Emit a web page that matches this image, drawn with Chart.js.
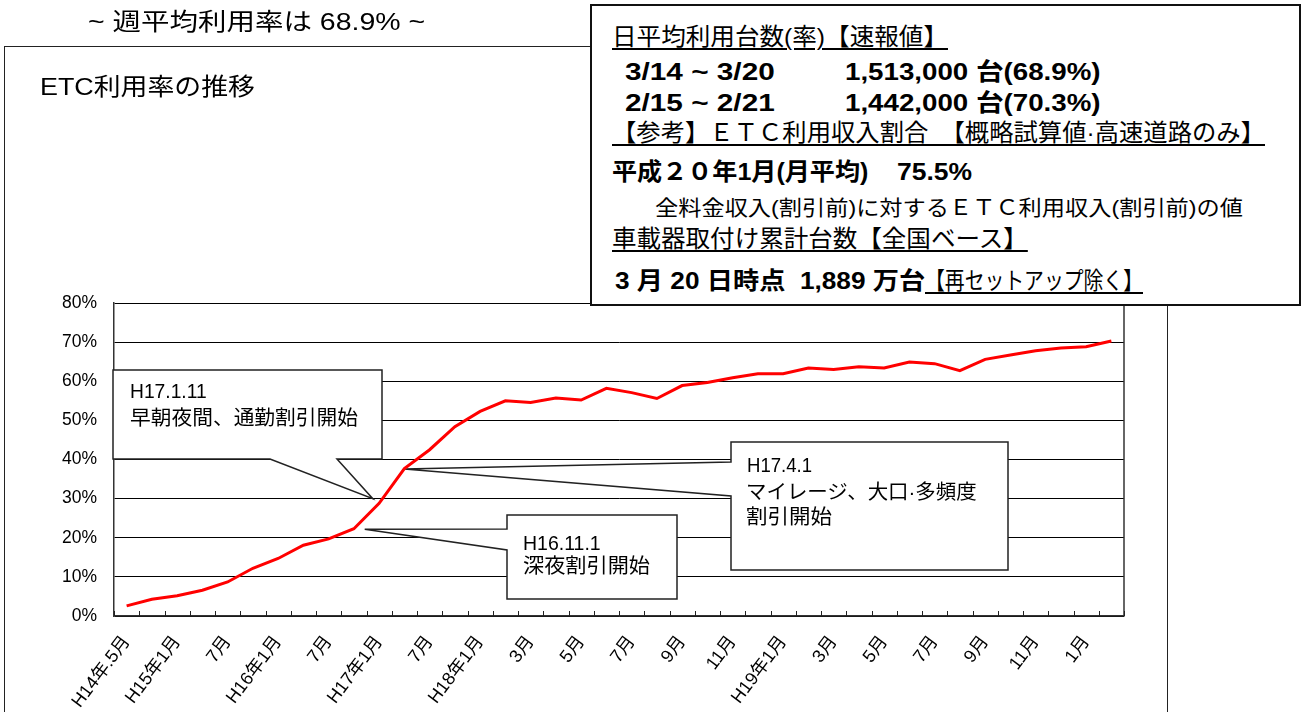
<!DOCTYPE html>
<html><head><meta charset="utf-8">
<script src="https://cdn.jsdelivr.net/npm/chart.js@4.4.1/dist/chart.umd.min.js"></script>
<style>
html,body{margin:0;padding:0;background:#fff;overflow:hidden;width:1307px;height:712px;}
#wrap{position:relative;width:1307px;height:712px;}
#frame{position:absolute;left:4px;top:46px;width:1162px;height:700px;border:1.5px solid #222;}
#c{position:absolute;left:0;top:0;}
#info{position:absolute;left:590px;top:4px;width:707px;height:298px;border:2px solid #111;background:#fff;}
.t{position:absolute;white-space:pre;color:#000;font-family:"Liberation Sans","Noto Sans CJK JP",sans-serif;transform-origin:0 50%;line-height:1;}
.b{font-weight:bold;}
.u{text-decoration:underline;text-decoration-thickness:2px;text-underline-offset:3px;}
</style></head>
<body><div id="wrap">
<div id="frame"></div>
<canvas id="c" width="1307" height="712"></canvas>
<div id="info"></div>
</div>
<script>
// ---- data ----
const categories = ['H14年.5月','','H15年1月','','7月','','H16年1月','','7月','','H17年1月','','7月','','H18年1月','','3月','','5月','','7月','','9月','','11月','','H19年1月','','3月','','5月','','7月','','9月','','11月','','1月',''];
const etcRate = [2.6,4.3,5.2,6.6,8.7,12.2,14.7,18.1,19.7,22.3,28.8,37.7,42.5,48.4,52.3,55.0,54.6,55.7,55.2,58.2,57.1,55.6,58.9,59.7,60.9,61.9,61.9,63.4,63.0,63.7,63.4,64.9,64.5,62.7,65.6,66.7,67.8,68.5,68.8,70.3];
const yTickLabels = ['0%','10%','20%','30%','40%','50%','60%','70%','80%'];
const seriesName = 'ETC利用率';

// ---- callouts (text + anchor on the data scale) ----
const callouts = [
  {lines:['H17.1.11','早朝夜間、通勤割引開始'], tipIndex:9.75, tipValue:30.0},
  {lines:['H16.11.1','深夜割引開始'], tipIndex:9.43, tipValue:22.2},
  {lines:['H17.4.1','マイレージ、大口·多頻度','割引開始'], tipIndex:11, tipValue:37.6}
];
// layout of callout boxes (pixels)
const calloutBoxes = [
  {x1:113,y1:370,x2:382,y2:459, side:'bottom', a:270, b:337, text:[[130,391,77],[130,418,228]]},
  {x1:507,y1:515,x2:677,y2:599, side:'left', a:529, b:550, text:[[523,543,78],[523,566,127]]},
  {x1:731,y1:442,x2:1008,y2:570, side:'left', a:462, b:496, text:[[747,465,65],[746,492,231],[746,517,86]]}
];

const FONT = '"Liberation Sans","Noto Sans CJK JP",sans-serif';

const decor = {
  id:'decor',
  beforeDatasetsDraw(chart){
    const {ctx, chartArea:a, scales:{x,y}} = chart;
    ctx.save();
    ctx.strokeStyle='#333'; ctx.lineWidth=1.5;
    ctx.beginPath(); ctx.moveTo(a.right, a.top); ctx.lineTo(a.right, a.bottom); ctx.stroke();
    ctx.lineWidth=1; ctx.strokeStyle='#222';
    for(let i=0;i<=categories.length;i++){
      const px=Math.round(x.getPixelForValue(i-0.5))+0.5;
      ctx.beginPath(); ctx.moveTo(px,a.bottom); ctx.lineTo(px,a.bottom-5); ctx.stroke();
    }
    callouts.forEach((c,k)=>{
      const bx=calloutBoxes[k];
      const tx=x.getPixelForValue(c.tipIndex), ty=y.getPixelForValue(c.tipValue);
      ctx.beginPath();
      if(bx.side==='bottom'){
        ctx.moveTo(bx.x1,bx.y1); ctx.lineTo(bx.x2,bx.y1); ctx.lineTo(bx.x2,bx.y2);
        ctx.lineTo(bx.b,bx.y2); ctx.lineTo(tx,ty); ctx.lineTo(bx.a,bx.y2); ctx.lineTo(bx.x1,bx.y2);
      } else {
        ctx.moveTo(bx.x1,bx.y1); ctx.lineTo(bx.x2,bx.y1); ctx.lineTo(bx.x2,bx.y2); ctx.lineTo(bx.x1,bx.y2);
        ctx.lineTo(bx.x1,bx.b); ctx.lineTo(tx,ty); ctx.lineTo(bx.x1,bx.a);
      }
      ctx.closePath();
      ctx.fillStyle='#fff'; ctx.fill();
      ctx.strokeStyle='#222'; ctx.lineWidth=1.5; ctx.stroke();
    });
    ctx.restore();
  }
};

new Chart(document.getElementById('c'), {
  type:'line',
  data:{labels:categories, datasets:[{label:seriesName, data:etcRate, borderColor:'#ff0000', borderWidth:3, pointRadius:0, tension:0, fill:false}]},
  options:{
    responsive:false, animation:false,
    layout:{padding:{top:303, right:183, left:0, bottom:0}},
    plugins:{legend:{display:false}, tooltip:{enabled:false}, title:{display:false}},
    scales:{
      x:{
        offset:true,
        grid:{display:false, drawTicks:false},
        border:{display:true, color:'#333', width:1.5},
        ticks:{autoSkip:false, maxRotation:53, minRotation:53, color:'#000', padding:16, font:{size:18, family:FONT}},
        afterFit(s){ s.height = 96; }
      },
      y:{
        min:0, max:80,
        ticks:{stepSize:10, color:'#000', padding:17, font:{size:17.5, family:FONT},
          callback:(v)=> yTickLabels[Math.round(v/10)]},
        grid:{color:'#000', lineWidth:1, drawTicks:false},
        border:{display:true, color:'#333', width:1.5},
        afterFit(s){ s.width = 114; }
      }
    }
  },
  plugins:[decor]
});

// ---- overlay texts ----
const texts = [
  ['~ 週平均利用率は 68.9% ~', 88, 22, 337, 24, ''],
  ['ETC利用率の推移', 40, 87, 215, 24, ''],
  ['日平均利用台数(率)【速報値】', 612, 37, 336, 24, 'u'],
  ['3/14 ~ 3/20', 625, 72, 150, 24, 'b'],
  ['1,513,000 台(68.9%)', 845, 72, 255, 24, 'b'],
  ['2/15 ~ 2/21', 625, 103, 150, 24, 'b'],
  ['1,442,000 台(70.3%)', 845, 103, 255, 24, 'b'],
  ['【参考】ＥＴＣ利用収入割合　【概略試算値·高速道路のみ】', 612, 133, 653, 24, 'u'],
  ['平成２０年1月(月平均)', 612, 172, 256, 24, 'b'],
  ['75.5%', 897, 172, 75, 24, 'b'],
  ['全料金収入(割引前)に対するＥＴＣ利用収入(割引前)の値', 655, 207, 588, 21, ''],
  ['車載器取付け累計台数【全国ベース】', 612, 239, 416, 24, 'u'],
  ['3 月 20 日時点  1,889 万台', 615, 281, 310, 24, 'b'],
  ['【再セットアップ除く】', 925, 281, 218, 24, 'u']
];
callouts.forEach((c,k)=>{
  c.lines.forEach((ln,j)=>{
    const [x,y,w]=calloutBoxes[k].text[j];
    texts.push([ln,x,y,w,20,'']);
  });
});
const wrap=document.getElementById('wrap');
const els=[];
texts.forEach(([s,x,yc,w,fs,cls])=>{
  const d=document.createElement('div');
  d.className='t'+(cls.includes('b')?' b':'')+(cls.includes('u')?' u':'');
  d.textContent=s;
  d.style.fontSize=fs+'px';
  d.style.left=x+'px';
  d.style.top=(yc-fs/2)+'px';
  d.style.zIndex=5;
  wrap.appendChild(d);
  els.push([d,w]);
});
function fit(){ els.forEach(([d,w])=>{ const nw=d.offsetWidth; if(nw>0) d.style.transform='scaleX('+(w/nw)+')'; }); }
fit();
if(document.fonts && document.fonts.ready) document.fonts.ready.then(fit);
</script>
</body></html>
